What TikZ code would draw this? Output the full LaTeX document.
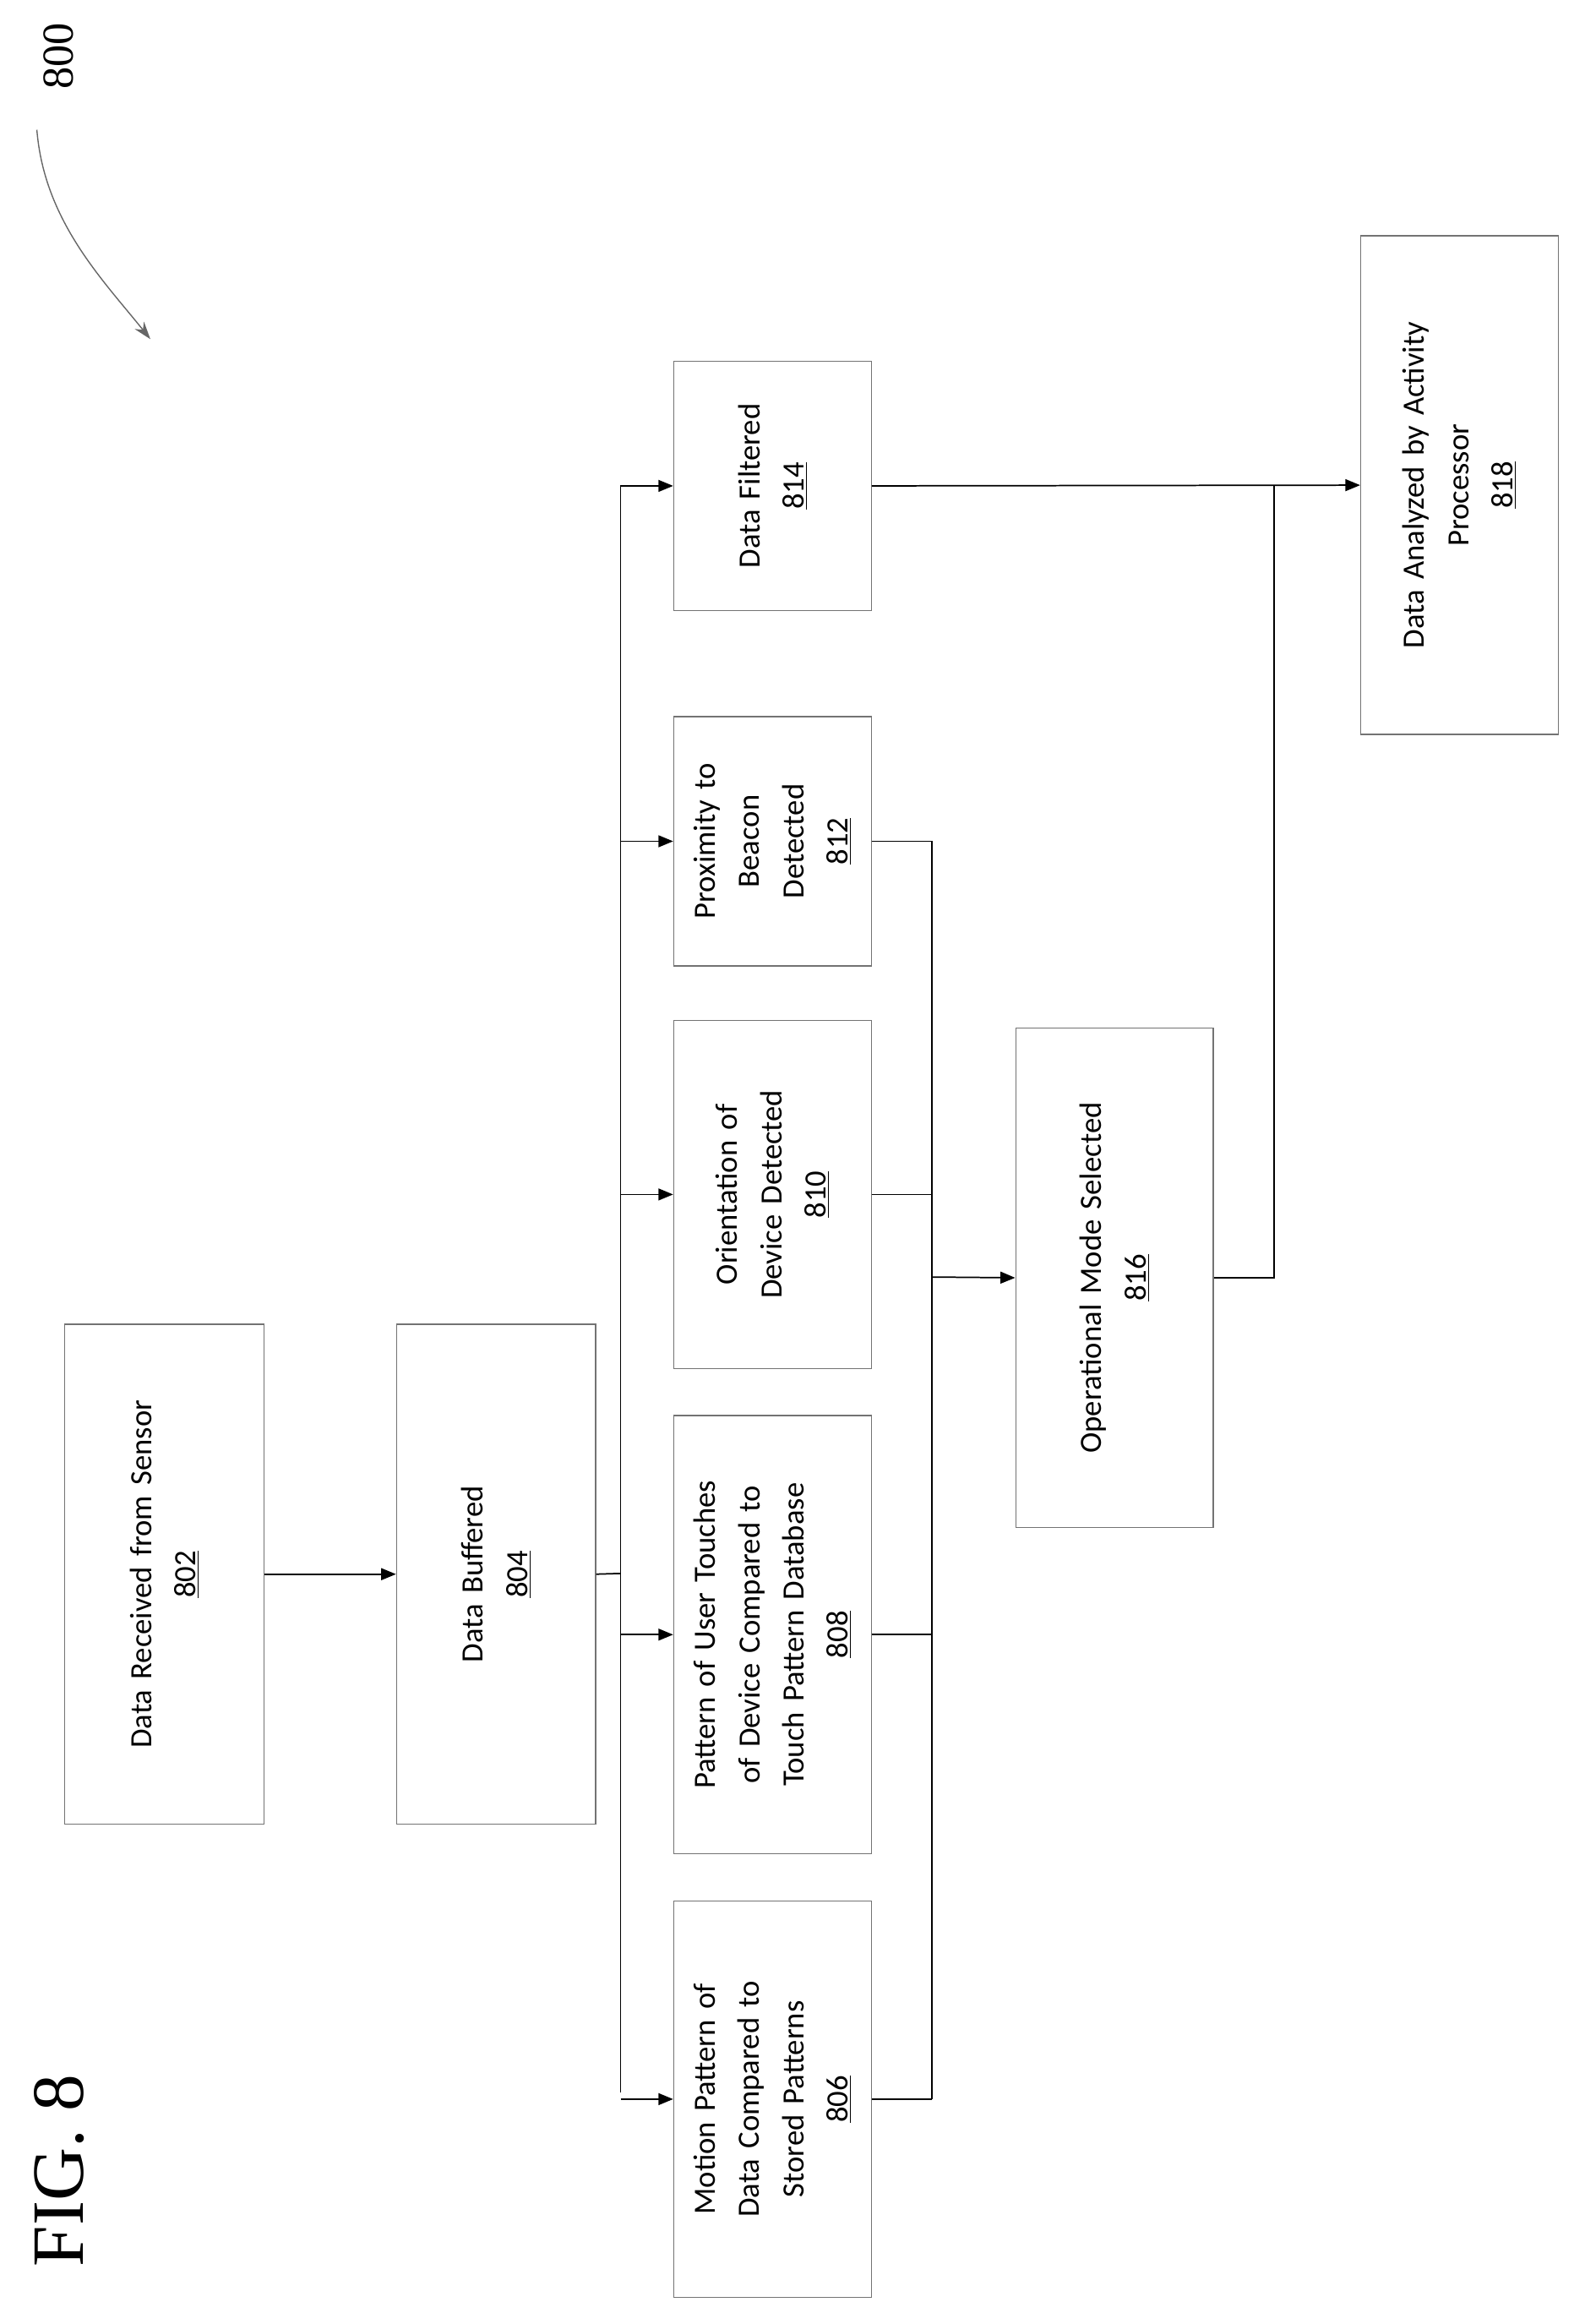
\documentclass[tikz,border=0pt]{standalone}
\usepackage{fontspec}
\setmainfont{Carlito}
\newfontfamily\serif{Liberation Serif}
\usetikzlibrary{arrows.meta}
\begin{document}
\begin{tikzpicture}[x=1pt,y=-1pt,
 box/.style={draw=black!55,line width=0.8pt,rotate=90,inner sep=0pt,align=center,font=\fontsize{21}{30}\selectfont},
 ln/.style={line width=1pt,draw=black},
 arr/.style={ln,-{Triangle[length=10pt,width=8pt]}}]
\useasboundingbox (0,0) rectangle (1075,1576);
\newcommand{\bx}[6]{\node[box,minimum width={#4-#3},minimum height={#6-#5},text width={#4-#3-20}] (#1) at ({(#5+#6)/2},{(#3+#4)/2}) {#2};}
\bx{n802}{Data Received from Sensor\\\underline{802}}{898}{1237}{44}{179}
\bx{n804}{Data Buffered\\\underline{804}}{898}{1237}{269}{404}
\bx{n806}{Motion Pattern of\\Data Compared to\\Stored Patterns\\\underline{806}}{1289}{1558}{457}{591}
\bx{n808}{Pattern of User Touches\\of Device Compared to\\Touch Pattern Database\\\underline{808}}{960}{1257}{457}{591}
\bx{n810}{Orientation of\\Device Detected\\\underline{810}}{692}{928}{457}{591}
\bx{n812}{Proximity to\\Beacon\\Detected\\\underline{812}}{486}{655}{457}{591}
\bx{n814}{Data Filtered\\\underline{814}}{245}{414}{457}{591}
\bx{n816}{Operational Mode Selected\\\underline{816}}{697}{1036}{689}{823}
\bx{n818}{Data Analyzed by Activity\\Processor\\\underline{818}}{160}{498}{923}{1057}
\coordinate (bus) at (421,1067);
\coordinate (col) at (632,866);
\coordinate (out) at (864,329);
\draw[arr] (n802.south) -- (n804.north);
\draw[ln] (n804.south) -- (bus);
\draw[ln] (421,1419) -- (421,329);
\foreach \n in {806,808,810,812,814} \draw[arr] (bus |- n\n.north) -- (n\n.north);
\foreach \n in {806,808,810,812} \draw[ln] (n\n.south) -- (col |- n\n.south);
\draw[ln] (col |- n806.south) -- (col |- n812.south);
\draw[arr] (col) -- (n816.north);
\draw[ln] (n816.south) -| (out);
\draw[arr] (n814.south) -- (n818.north);
\node[rotate=90,font=\serif\fontsize{30}{30}\selectfont] (lbl) at (40,38) {800};
\draw[line width=0.8pt,draw=black!60,-{Stealth[length=12pt,width=8pt]}] (25,88) .. controls (30,150) and (70,190) .. (102,230);
\node[rotate=90,font=\serif\fontsize{50}{50}\selectfont] (fig) at (40,1472) {FIG. 8};
\end{tikzpicture}
\end{document}
